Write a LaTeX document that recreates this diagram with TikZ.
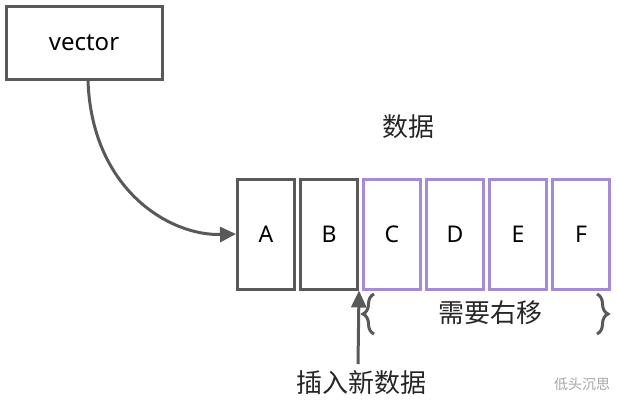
\documentclass[tikz,border=0pt]{standalone}
\usepackage{fontspec}
\setmainfont{Noto Sans}
\newfontfamily\cjk{Noto Sans CJK SC}
\usetikzlibrary{positioning,decorations.pathreplacing,arrows.meta}
\definecolor{darkline}{HTML}{595959}
\definecolor{lilac}{HTML}{A58AD8}
\tikzset{
  cell/.style={draw=darkline,line width=3pt,minimum width=57pt,minimum height=110pt,inner sep=0pt,font=\fontsize{23}{27}\selectfont},
  pcell/.style={cell,draw=lilac},
  bracepart/.style={draw=darkline,line width=3pt,decorate,decoration={brace,amplitude=11pt}},
  cnlabel/.style={font=\cjk\fontsize{26}{30}\selectfont,text=black!85}
}
\begin{document}
\begin{tikzpicture}[x=1pt,y=-1pt]
  \useasboundingbox (0,0) rectangle (618,417);
  %%%%%%%%%%%%%the vector box%%%%%%%%%%%%%%%%%%%%%%
  \node[draw=darkline,line width=3pt,minimum width=156pt,minimum height=73pt,font=\fontsize{24}{28}\selectfont] (vec) at (84,43) {vector};

  %%%%%%%%%%%%%the cells%%%%%%%%%%%%%%%%%%%%%%
  \node[cell] (a) at (266,234) {A};
  \node[cell] (b) at (329,234) {B};
  \node[pcell] (c) at (392,234) {C};
  \node[pcell] (d) at (455,234) {D};
  \node[pcell] (e) at (518,234) {E};
  \node[pcell] (f) at (581,234) {F};
  \node[cnlabel] (data) at (408,127) {数据};

  \draw[darkline,line width=3pt,-{Triangle[length=16pt,width=15pt]}] (vec.south) ++(4,0) coordinate (vs)
    .. controls (92,190) and (170,236) .. (a.west);

  %%%%%%%%%%%%%braces and insert%%%%%%%%%%%%%%%%%%%%%%
  \coordinate (lb1) at (374,334);
  \coordinate (lb2) at (374,294);
  \coordinate (rb1) at (597,294);
  \coordinate (rb2) at (597,334);
  \draw[bracepart] (lb1) -- (lb2);
  \draw[bracepart] (rb1) -- (rb2);
  \node[cnlabel] (shift) at (490,313) {需要右移};

  \node[cnlabel] (ins) at (361,383) {插入新数据};
  \draw[darkline,line width=3pt,-{Triangle[length=17pt,width=15pt]}] (358,364) -- (b.south east);

  \node[font=\cjk\fontsize{14}{16}\selectfont,text=gray!70] (mark) at (582,384) {低头沉思};
\end{tikzpicture}
\end{document}
